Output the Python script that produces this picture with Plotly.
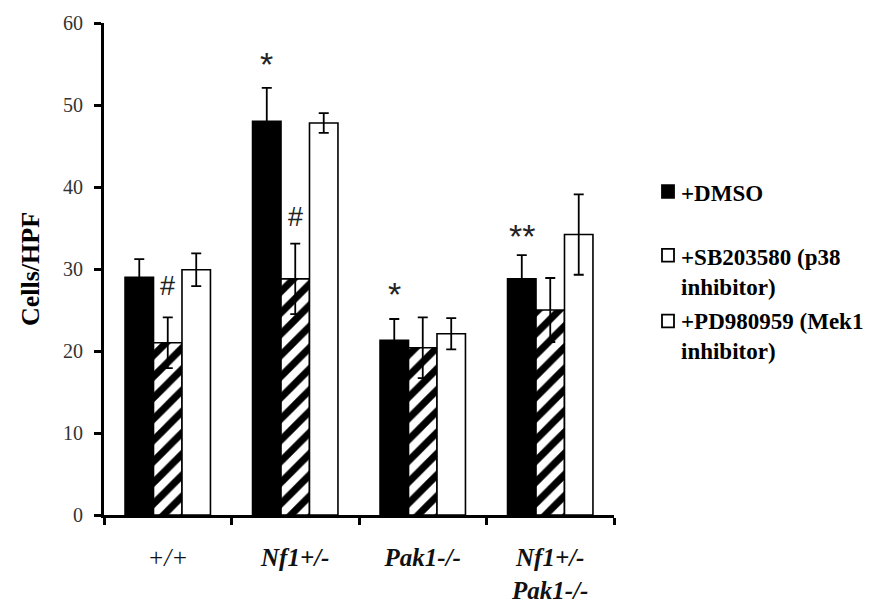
import plotly.graph_objects as go

# Genotype groups on the x axis
categories = ["+/+", "Nf1+/-", "Pak1-/-", "Nf1+/-\nPak1-/-"]
tick_labels = ["<i>+/+</i>", "<b><i>Nf1+/-</i></b>", "<b><i>Pak1-/-</i></b>",
               "<b><i>Nf1+/-</i></b><br><b><i>Pak1-/-</i></b>"]

# Treatment series: means and error
series_names = ["+DMSO", "+SB203580 (p38 inhibitor)", "+PD980959 (Mek1 inhibitor)"]
legend_labels = ["+DMSO", "+SB203580 (p38<br>inhibitor)", "+PD980959 (Mek1<br>inhibitor)"]
dmso_mean = [29.0, 48.0, 21.3, 28.8]
dmso_err = [2.2, 4.1, 2.6, 2.9]
sb_mean = [21.0, 28.8, 20.4, 25.0]
sb_err = [3.1, 4.3, 3.7, 3.9]
pd_mean = [29.9, 47.8, 22.1, 34.2]
pd_err = [2.0, 1.2, 1.9, 4.9]

# Significance marks: (text, category, series index, y)
sig_marks = [
    ("#", "+/+", 1, 27.9),
    ("*", "Nf1+/-", 0, 55.0),
    ("#", "Nf1+/-", 1, 36.3),
    ("*", "Pak1-/-", 0, 27.0),
    ("**", "Nf1+/-\nPak1-/-", 0, 34.0),
]

SERIF = "Liberation Serif"
SANS = "Liberation Sans"

fig = go.Figure()

err_style = dict(type="data", symmetric=True, color="black", thickness=1.8, width=5)
line_style = dict(color="black", width=1.6)

fig.add_trace(go.Bar(
    x=categories, y=dmso_mean, name=series_names[0],
    marker=dict(color="black", line=line_style),
    error_y=dict(array=dmso_err, **err_style), showlegend=False,
))
fig.add_trace(go.Bar(
    x=categories, y=sb_mean, name=series_names[1],
    marker=dict(color="white", line=line_style,
                pattern=dict(shape="/", fgcolor="black", bgcolor="white",
                             fgopacity=1, fillmode="replace",
                             size=15, solidity=0.47)),
    error_y=dict(array=sb_err, **err_style), showlegend=False,
))
fig.add_trace(go.Bar(
    x=categories, y=pd_mean, name=series_names[2],
    marker=dict(color="white", line=line_style),
    error_y=dict(array=pd_err, **err_style), showlegend=False,
))

# Plot-area geometry (pixels) used to place bar-relative offsets
W, H = 879, 616
ml, mr, mt, mb = 104, 265, 18, 96
plot_w = W - ml - mr
cat_w = plot_w / len(categories)
bargap = 0.33
bar_w = cat_w * (1 - bargap) / 3

annotations = []
for text, cat, si, yv in sig_marks:
    annotations.append(dict(
        x=cat, y=yv, xref="x", yref="y", text=text, showarrow=False,
        xshift=(si - 1) * bar_w, yanchor="middle",
        font=dict(family=SANS, size=27 if text == "#" else 34, color="#222"),
    ))

# Y axis title
annotations.append(dict(
    x=-0.145, y=0.5, xref="paper", yref="paper", text="<b>Cells/HPF</b>",
    textangle=-90, showarrow=False, xanchor="center", yanchor="middle",
    font=dict(family=SERIF, size=26, color="black"),
))

# Legend entries
def px_x(px):
    return (px - ml) / plot_w

def px_y(py):
    return (H - mb - py) / (H - mt - mb)

legend_fill = ["black", "white", "white"]
legend_centers = [190, 255, 322]
legend_text_y = [192, 273, 338]
for i, lab in enumerate(legend_labels):
    cy = legend_centers[i]
    fig.add_shape(type="rect", xref="paper", yref="paper",
                  x0=px_x(662), x1=px_x(674), y0=px_y(cy - 6.5), y1=px_y(cy + 6.5),
                  fillcolor=legend_fill[i], line=dict(color="black", width=1.8))
    annotations.append(dict(
        x=px_x(679), y=px_y(legend_text_y[i]), xref="paper", yref="paper",
        text="<b>" + lab + "</b>", showarrow=False, xanchor="left",
        yanchor="middle", align="left",
        font=dict(family=SERIF, size=23, color="black"),
    ))

fig.update_layout(
    width=W, height=H,
    margin=dict(l=ml, r=mr, t=mt, b=mb),
    plot_bgcolor="white", paper_bgcolor="white",
    barmode="group", bargap=bargap, bargroupgap=0,
    annotations=annotations,
    xaxis=dict(
        tickmode="array", tickvals=categories, ticktext=tick_labels,
        tickson="boundaries", ticks="outside", ticklen=7, tickwidth=3,
        tickcolor="black", showline=True, linecolor="black", linewidth=3,
        showgrid=False, zeroline=False, ticklabelstandoff=18,
        tickfont=dict(family=SERIF, size=25, color="#111"),
    ),
    yaxis=dict(
        range=[0, 60], dtick=10, ticks="outside", ticklen=7, tickwidth=3,
        tickcolor="black", showline=True, linecolor="black", linewidth=3,
        showgrid=False, zeroline=False, ticklabelstandoff=7,
        tickfont=dict(family=SERIF, size=20, color="#333"),
    ),
)

fig.write_html("out.html")
